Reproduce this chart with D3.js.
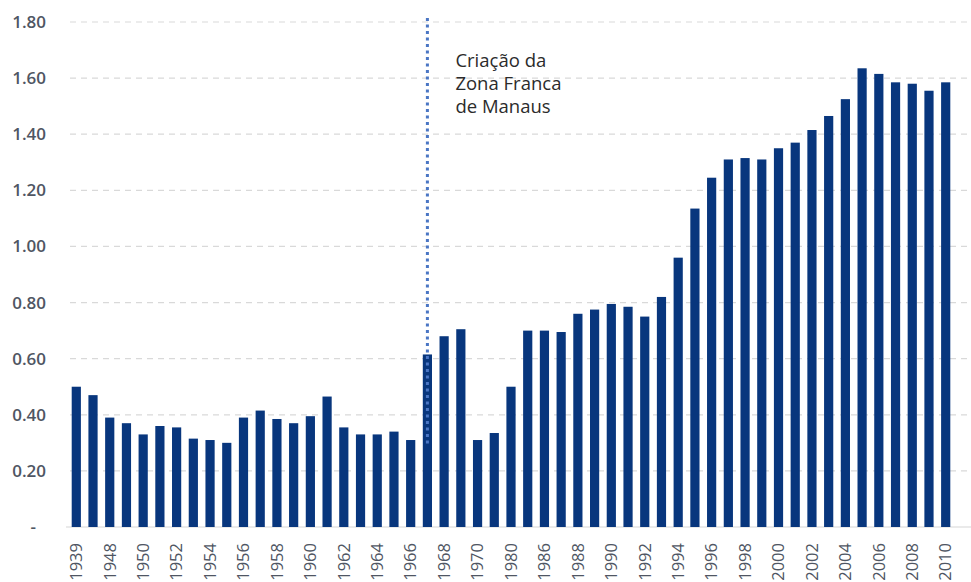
<!DOCTYPE html>
<html>
<head>
<meta charset="utf-8">
<script src="https://cdn.jsdelivr.net/npm/d3@7"></script>
<style>
  body { margin: 0; background: #fff; }
  text { font-family: "Open Sans", sans-serif; }
</style>
</head>
<body>
<div id="chart"></div>
<script>
var years = ["1939","1947","1948","1949","1950","1951","1952","1953","1954","1955",
  "1956","1957","1958","1959","1960","1961","1962","1963","1964","1965",
  "1966","1967","1968","1969","1970","1975","1980","1985","1986","1987",
  "1988","1989","1990","1991","1992","1993","1994","1995","1996","1997",
  "1998","1999","2000","2001","2002","2003","2004","2005","2006","2007",
  "2008","2009","2010"];
var values = [0.50,0.47,0.39,0.37,0.33,0.36,0.355,0.315,0.31,0.30,
  0.39,0.415,0.385,0.37,0.395,0.465,0.355,0.33,0.33,0.34,
  0.31,0.615,0.68,0.705,0.31,0.335,0.50,0.70,0.70,0.695,
  0.76,0.775,0.795,0.785,0.75,0.82,0.96,1.135,1.245,1.31,
  1.315,1.31,1.35,1.37,1.415,1.465,1.525,1.635,1.615,1.585,
  1.58,1.555,1.585];
var yTicks = [0,0.2,0.4,0.6,0.8,1.0,1.2,1.4,1.6,1.8];
var markerYear = "1967";
var noteLines = ["Criação da","Zona Franca","de Manaus"];

var width = 971, height = 582;
var svg = d3.select("#chart").append("svg")
    .attr("width", width)
    .attr("height", height);

var x = d3.scaleBand()
    .domain(years)
    .range([71.7, 950.3])
    .paddingInner(0.45)
    .paddingOuter(0);

var y = d3.scaleLinear()
    .domain([0, 1.8])
    .range([527, 22]);

// gridlines
svg.append("g")
  .selectAll("line")
  .data(yTicks.filter(function(d) { return d > 0; }))
  .enter().append("line")
    .attr("x1", 70)
    .attr("x2", width)
    .attr("y1", function(d) { return y(d); })
    .attr("y2", function(d) { return y(d); })
    .attr("stroke", "#d9d9d9")
    .attr("stroke-width", 1.2)
    .attr("stroke-dasharray", "6,5");

// baseline
svg.append("line")
    .attr("x1", 66).attr("x2", width)
    .attr("y1", y(0)).attr("y2", y(0))
    .attr("stroke", "#d6d6d6")
    .attr("stroke-width", 1.2);

// y axis labels
var yAxis = d3.axisLeft(y)
    .tickValues(yTicks)
    .tickSize(0)
    .tickPadding(0)
    .tickFormat(function(d) { return d === 0 ? "-" : d3.format(".2f")(d); });

svg.append("g")
    .attr("transform", "translate(46,0)")
    .call(yAxis)
    .call(function(g) { g.select(".domain").remove(); })
    .selectAll("text")
    .attr("font-size", 17)
    .attr("font-weight", 600)
    .attr("fill", "#4f5663")
    .attr("font-family", "'Open Sans', sans-serif")
    .attr("dx", function(d) { return d === 0 ? -10 : 0; });

// bars
svg.append("g")
  .selectAll("rect")
  .data(values)
  .enter().append("rect")
    .attr("x", function(d, i) { return x(years[i]); })
    .attr("y", function(d) { return y(d); })
    .attr("width", x.bandwidth())
    .attr("height", function(d) { return y(0) - y(d); })
    .attr("fill", "#08367d");

// x axis labels (every other year)
var xAxis = d3.axisBottom(x)
    .tickValues(years.filter(function(d, i) { return i % 2 === 0; }))
    .tickSize(0)
    .tickPadding(0);

svg.append("g")
    .attr("transform", "translate(0,543)")
    .call(xAxis)
    .call(function(g) { g.select(".domain").remove(); })
    .selectAll("text")
    .attr("font-size", 16.5)
    .attr("fill", "#4f5663")
    .attr("font-family", "'Open Sans', sans-serif")
    .attr("text-anchor", "end")
    .attr("transform", "rotate(-90)")
    .attr("x", 0)
    .attr("y", 0)
    .attr("dy", "0.35em");

// marker line for Zona Franca
var mx = x(markerYear) + x.bandwidth() / 2;
svg.append("line")
    .attr("x1", mx).attr("x2", mx)
    .attr("y1", y(1.8) - 4).attr("y2", y(0.29))
    .attr("stroke", "#4a76c4")
    .attr("stroke-width", 3)
    .attr("stroke-dasharray", "3,3.5");

svg.append("text")
    .attr("x", mx + 28)
    .attr("y", 67)
    .attr("font-size", 18.5)
    .attr("fill", "#2b2b2b")
    .selectAll("tspan")
    .data(noteLines)
    .enter().append("tspan")
      .attr("x", mx + 28)
      .attr("dy", function(d, i) { return i === 0 ? 0 : 23; })
      .text(function(d) { return d; });
</script>
</body>
</html>
